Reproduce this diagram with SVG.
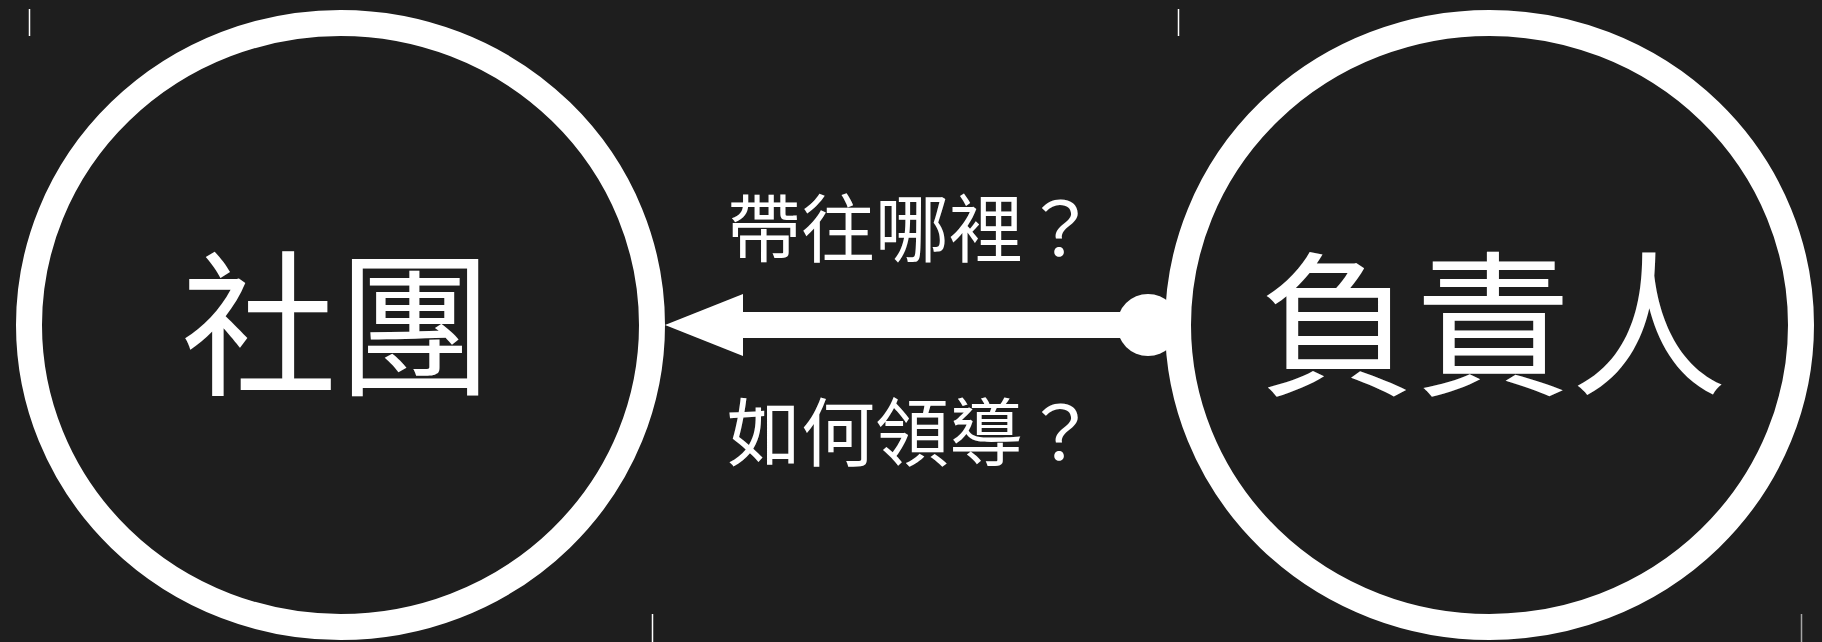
<svg xmlns="http://www.w3.org/2000/svg" width="1822" height="642" viewBox="0 0 1822 642">
<style>
.node{fill:none;stroke:#ffffff;stroke-width:26}
.big{font-family:"Noto Sans CJK TC","Noto Sans CJK SC",sans-serif;font-size:156px;fill:#ffffff}
.lbl{font-family:"Noto Sans CJK TC","Noto Sans CJK SC",sans-serif;font-size:74px;fill:#ffffff}
.tick{stroke:#ffffff;stroke-width:1.5}
</style>
<rect width="1822" height="642" fill="#1e1e1e"/>
<g id="ticks">
<line class="tick" x1="29.5" y1="9" x2="29.5" y2="36"/>
<line class="tick" x1="1178.5" y1="9" x2="1178.5" y2="36"/>
<line class="tick" x1="652.5" y1="614" x2="652.5" y2="642"/>
<line class="tick" x1="1801.5" y1="614" x2="1801.5" y2="642" stroke-opacity="0.6"/>
</g>
<g id="node-shetuan">
<ellipse class="node" cx="340.5" cy="325" rx="311.5" ry="302"/>
<text class="big" x="337" y="383" text-anchor="middle">社團</text>
</g>
<g id="node-fuzeren">
<ellipse class="node" cx="1489.5" cy="325" rx="311.5" ry="302"/>
<text class="big" x="1493" y="383" text-anchor="middle">負責人</text>
</g>
<g id="connectors">
<rect x="742" y="312" width="406" height="26" fill="#ffffff"/>
<polygon points="665,325 743,294 743,356" fill="#ffffff"/>
<circle cx="1148" cy="325" r="31" fill="#ffffff"/>
<text class="lbl" x="727" y="256">帶往哪裡？</text>
<text class="lbl" x="727" y="460">如何領導？</text>
</g>
</svg>
